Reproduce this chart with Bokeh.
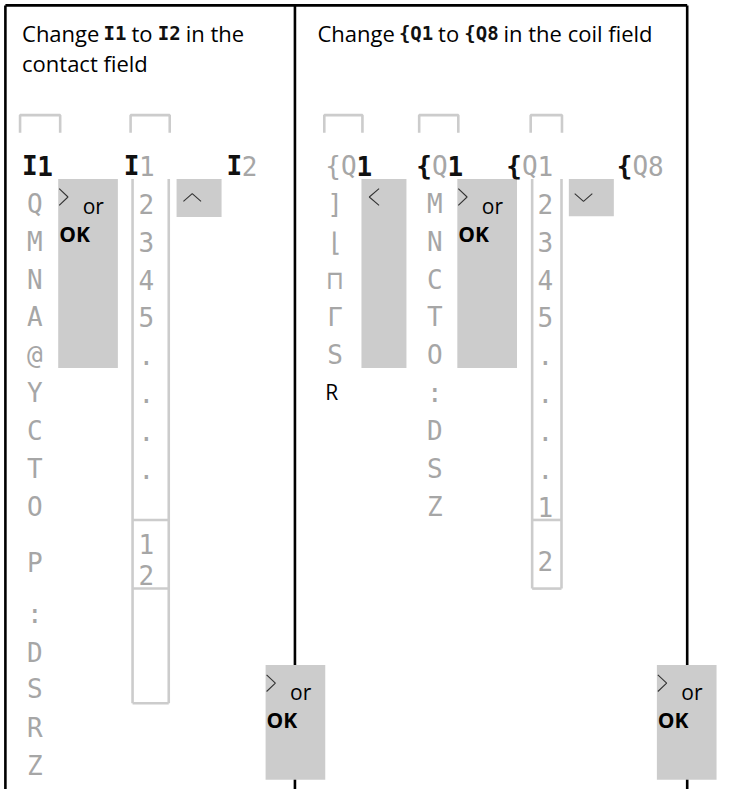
from bokeh.plotting import figure
from bokeh.models import Range1d
from bokeh.core.properties import value
from bokeh.embed import file_html
from bokeh.resources import INLINE

# ---------------- data (texts of the diagram) ----------------
left_title_words = ["Change", "I1", "to", "I2", "in the"]
left_title_lcd = [False, True, False, True, False]
left_title_line2 = "contact field"
right_title_words = ["Change", "{Q1", "to", "{Q8", "in the coil field"]
right_title_lcd = [False, True, False, True, False]

contact_header = ["I1", "I1", "I2"]
contact_header_black = ["11", "10", "10"]
contact_types = ["Q", "M", "N", "A", "@", "Y", "C", "T", "O", "P", ":", "D", "S", "R", "Z"]
contact_numbers = ["2", "3", "4", "5", ".", ".", ".", ".", "1", "2"]

coil_header = ["{Q1", "{Q1", "{Q1", "{Q8"]
coil_header_black = ["001", "101", "100", "100"]
coil_functions = ["]", "⌊", "⊓", "Γ", "S"]
coil_reset = "R"
coil_types = ["M", "N", "C", "T", "O", ":", "D", "S", "Z"]
coil_numbers = ["2", "3", "4", "5", ".", ".", ".", ".", "1", "2"]

key_or = "or"
key_ok = "OK"

# ---------------- layout (image pixel coordinates) ----------------
ROW0, STEP = 198.0, 38.6
def row(i):
    return ROW0 + i * STEP

LCD_FS = 26
LCD_GRAY = "#a6a6a6"
LCD_BLACK = "#111111"
BOX_GRAY = "#cccccc"
TEXT_FONT = value("Open Sans")
MONO = value("DejaVu Sans Mono")
TITLE_FS = 22
INLINE_FS = 19

# Open Sans advance widths (em) used to lay out title pieces one after another
OS_W = {" ": .26, "a": .556, "c": .476, "d": .613, "e": .561, "f": .339, "g": .548,
        "h": .614, "i": .253, "l": .253, "n": .614, "o": .604, "t": .355, "C": .634}

def text_width(s, size):
    return sum(OS_W.get(ch, .55) for ch in s) * size

p = figure(width=718, height=789, x_range=Range1d(0, 734), y_range=Range1d(805, 0),
           output_backend="svg", toolbar_location=None, min_border=0,
           x_axis_location=None, y_axis_location=None)
p.grid.visible = False
p.outline_line_color = None
p.background_fill_color = "white"
p.border_fill_color = "white"

# frame
frame_x = [[5, 702], [5, 5], [301, 301], [702, 702]]
frame_y = [[5, 5], [5, 805], [5, 805], [5, 805]]
p.multi_line(xs=frame_x, ys=frame_y, line_color="black", line_width=2.6)

# brackets above columns
bracket_spans = [(20, 61), (133, 173), (331, 370), (428, 468), (542, 574)]
p.multi_line(xs=[[a, a, b, b] for a, b in bracket_spans],
             ys=[[135, 117, 117, 135] for _ in bracket_spans],
             line_color=BOX_GRAY, line_width=2.6)

# number columns (open boxes)
def column_frame(x0, x1, y_top, y_bottom, dividers):
    xs = [[x0, x0], [x1, x1]] + [[x0, x1] for _ in dividers]
    ys = [[y_top, y_bottom], [y_top, y_bottom]] + [[d, d] for d in dividers]
    p.multi_line(xs=xs, ys=ys, line_color=BOX_GRAY, line_width=2.6)

column_frame(135, 172, 182, 717, [530, 600, 717])
column_frame(543.5, 573.5, 182, 600, [530, 600])

# gray key boxes: (left, right, top, bottom, kind)
boxes = [
    (59, 120, 182, 375, "ok"),
    (180, 226, 182, 221, "up"),
    (271, 332, 678, 795, "ok"),
    (369, 415, 182, 375, "left"),
    (467, 528, 182, 375, "ok"),
    (581, 627, 182, 220, "down"),
    (671, 732, 678, 795, "ok"),
]
p.quad(left=[b[0] for b in boxes], right=[b[1] for b in boxes],
       top=[b[2] for b in boxes], bottom=[b[3] for b in boxes],
       fill_color=BOX_GRAY, line_color=None)

chev_x, chev_y = [], []
or_x, or_y, ok_x, ok_y = [], [], [], []
for l, r, t, b, kind in boxes:
    if kind == "ok":
        chev_x.append([l + 1, l + 10, l + 1]); chev_y.append([t + 10, t + 18.5, t + 27])
        or_x.append(l + 25); or_y.append(t + 28)
        ok_x.append(l + 1); ok_y.append(t + 56)
    elif kind == "left":
        chev_x.append([l + 18, l + 8, l + 18]); chev_y.append([t + 10, t + 18.5, t + 27])
    elif kind == "up":
        chev_x.append([l + 7, l + 16, l + 25]); chev_y.append([t + 23, t + 15, t + 23])
    elif kind == "down":
        chev_x.append([l + 6, l + 15, l + 24]); chev_y.append([t + 15, t + 23, t + 15])
p.multi_line(xs=chev_x, ys=chev_y, line_color="#333333", line_width=1.1)
p.text(x=or_x, y=or_y, text=[key_or] * len(or_x), text_font=TEXT_FONT,
       text_font_size="21px", text_color="black", text_baseline="alphabetic")
p.text(x=ok_x, y=ok_y, text=[key_ok] * len(ok_x), text_font=TEXT_FONT,
       text_font_size="21px", text_font_style="bold", text_color="black",
       text_baseline="alphabetic")

# LCD glyph helper
def lcd(xs, ys, chars, color=LCD_GRAY, size=LCD_FS, bold=False):
    p.text(x=xs, y=[y + 0.365 * size for y in ys], text=chars, text_color=color,
           text_font=MONO, text_font_size=f"{size}px", text_align="center",
           text_baseline="alphabetic", text_font_style="bold" if bold else "normal")

# headers
def header(starts, words, blacks, pitch, y):
    gx, gy, gc, kx, ky, kc = [], [], [], [], [], []
    for s, w, bl in zip(starts, words, blacks):
        for i, (ch, f) in enumerate(zip(w, bl)):
            if f == "1":
                kx.append(s + i * pitch); ky.append(y); kc.append(ch)
            else:
                gx.append(s + i * pitch); gy.append(y); gc.append(ch)
    lcd(gx, gy, gc)
    lcd(kx, ky, kc, color=LCD_BLACK, bold=True)

header([30, 134, 239], contact_header, contact_header_black, 15.5, 159)
header([340, 433, 525, 638], coil_header, coil_header_black, 16, 159)

# contact field columns
contact_type_y = [row(i) for i in range(9)] + [564, 616, 656, 693, 733, 772]
lcd([35] * len(contact_types), contact_type_y, contact_types)
contact_number_y = [row(i) for i in range(8)] + [545, 577]
lcd([149] * len(contact_numbers), contact_number_y, contact_numbers)

# coil field columns
lcd([342] * len(coil_functions), [row(i) for i in range(len(coil_functions))], coil_functions)
p.text(x=[332], y=[row(5) + 8], text=[coil_reset], text_font=TEXT_FONT,
       text_font_size="21px", text_color="black", text_baseline="alphabetic")
lcd([444] * len(coil_types), [row(i) for i in range(len(coil_types))], coil_types)
coil_number_y = [row(i) for i in range(9)] + [562]
lcd([557] * len(coil_numbers), coil_number_y, coil_numbers)

# titles: pieces laid out one after another
def title(words, is_lcd, x0, y):
    tx, ty, tt, lx, ly, lt = [], [], [], [], [], []
    x = x0
    space = OS_W[" "] * TITLE_FS
    for w, f in zip(words, is_lcd):
        if f:
            lx.append(x); ly.append(y); lt.append(w)
            x += len(w) * 0.602 * INLINE_FS + space
        else:
            tx.append(x); ty.append(y); tt.append(w)
            x += text_width(w, TITLE_FS) + space
    p.text(x=tx, y=ty, text=tt, text_font=TEXT_FONT, text_font_size=f"{TITLE_FS}px",
           text_color="black", text_baseline="alphabetic")
    p.text(x=lx, y=ly, text=lt, text_font=MONO, text_font_size=f"{INLINE_FS}px",
           text_font_style="bold", text_color="#111111", text_baseline="alphabetic")

title(left_title_words, left_title_lcd, 22, 33)
p.text(x=[22], y=[64], text=[left_title_line2], text_font=TEXT_FONT,
       text_font_size=f"{TITLE_FS}px", text_color="black", text_baseline="alphabetic")
title(right_title_words, right_title_lcd, 324, 33)

open("out.html", "w").write(file_html(p, INLINE))
